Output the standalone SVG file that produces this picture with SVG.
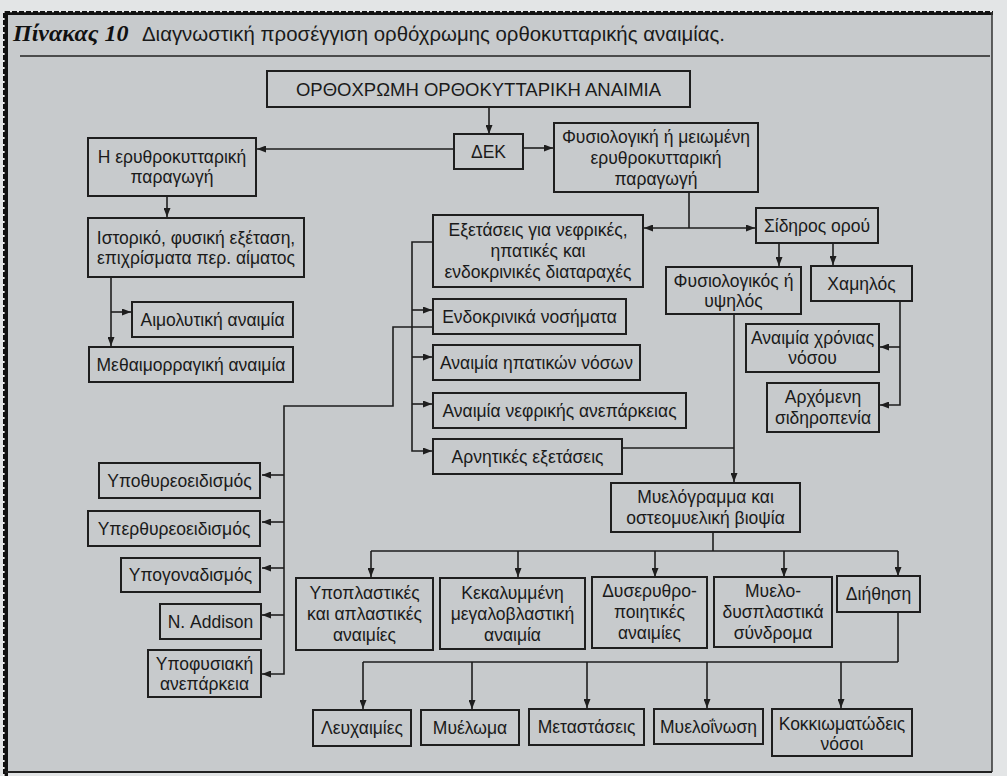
<svg xmlns="http://www.w3.org/2000/svg" width="1007" height="776" viewBox="0 0 1007 776">
<style>
.b{fill:none;stroke:#1e1e1e;stroke-width:2}
.t{font-family:"Liberation Sans",Arial,sans-serif;font-size:17.5px;fill:#1a1a1a;text-anchor:middle;dominant-baseline:central}
.c{fill:none;stroke:#1e1e1e;stroke-width:1.6}
.ar{marker-end:url(#a)}
</style>
<defs>
<marker id="a" markerWidth="9" markerHeight="7" refX="9" refY="3.5" orient="auto" markerUnits="userSpaceOnUse"><path d="M0,0 L9,3.5 L0,7 z" fill="#1e1e1e"/></marker>
</defs>
<rect x="0" y="0" width="1007" height="776" fill="#e3e5e6"/>
<rect x="5" y="12" width="987" height="760" fill="#c7cacc"/>
<!-- frame -->
<line x1="3" y1="13" x2="993" y2="13" stroke="#111" stroke-width="4"/>
<line x1="3" y1="11.5" x2="993" y2="11.5" stroke="#f2f2f2" stroke-width="1.5" stroke-dasharray="2 5"/>
<line x1="5.5" y1="11" x2="5.5" y2="776" stroke="#111" stroke-width="5"/>
<line x1="3.8" y1="11" x2="3.8" y2="776" stroke="#f2f2f2" stroke-width="1.6" stroke-dasharray="2 5"/>
<line x1="992" y1="12" x2="992" y2="772" stroke="#333" stroke-width="1.5"/>
<line x1="5" y1="772" x2="992" y2="772" stroke="#222" stroke-width="2"/>
<!-- title -->
<text x="13" y="41" font-family="Liberation Serif,serif" font-weight="bold" font-style="italic" font-size="24" fill="#111">Πίνακας 10</text>
<text x="142" y="41" font-family="Liberation Sans,Arial,sans-serif" font-size="20.5" fill="#1a1a1a" textLength="583" lengthAdjust="spacingAndGlyphs">Διαγνωστική προσέγγιση ορθόχρωμης ορθοκυτταρικής αναιμίας.</text>
<line x1="20" y1="56" x2="990" y2="56" stroke="#222" stroke-width="1.5"/>

<g id="connectors">
<path class="c ar" d="M489,107 V134"/>
<path class="c ar" d="M523,148 H553"/>
<path class="c ar" d="M454,149 H257"/>
<path class="c ar" d="M167,196 V217"/>
<path class="c ar" d="M111,277 V346"/>
<path class="c ar" d="M111,312 H131"/>
<path class="c" d="M689,192 V228"/>
<path class="c ar" d="M689,228 H644"/>
<path class="c ar" d="M689,228 H755"/>
<path class="c ar" d="M779,243 V266"/>
<path class="c ar" d="M833,243 V265"/>
<path class="c ar" d="M900,301 V405 H880"/>
<path class="c ar" d="M900,347 H880"/>
<path class="c ar" d="M734,314 V482"/>
<path class="c" d="M622,448 H734"/>
<path class="c ar" d="M433,242 H412 V451 H432"/>
<path class="c ar" d="M412,310 H432"/>
<path class="c ar" d="M412,357 H432"/>
<path class="c ar" d="M412,404 H432"/>
<path class="c ar" d="M433,327 H393 V406 H284 V674 H262"/>
<path class="c ar" d="M284,475 H262"/>
<path class="c ar" d="M284,522 H262"/>
<path class="c ar" d="M284,568 H262"/>
<path class="c ar" d="M284,615 H262"/>
<path class="c" d="M713,532 V551 M371,551 H898"/>
<path class="c ar" d="M371,551 V577"/>
<path class="c ar" d="M518,551 V577"/>
<path class="c ar" d="M655,551 V577"/>
<path class="c ar" d="M784,551 V577"/>
<path class="c ar" d="M898,551 V576"/>
<path class="c" d="M898,612 V662 M363,662 H898"/>
<path class="c ar" d="M363,662 V709"/>
<path class="c ar" d="M472,662 V709"/>
<path class="c ar" d="M587,662 V708"/>
<path class="c ar" d="M707,662 V708"/>
<path class="c ar" d="M841,662 V708"/>
</g>

<g id="n-top"><rect class="b" x="267" y="71" width="423" height="36"/><text class="t" x="478.5" y="89.5" style="font-size:18.5px">ΟΡΘΟΧΡΩΜΗ ΟΡΘΟΚΥΤΤΑΡΙΚΗ ΑΝΑΙΜΙΑ</text></g>
<g id="n-dek"><rect class="b" x="454" y="134" width="69" height="35"/><text class="t" x="488.5" y="151.5">ΔΕΚ</text></g>
<g id="n-fysiol"><rect class="b" x="554" y="123" width="204" height="69"/><text class="t" x="656" y="136.5">Φυσιολογική ή μειωμένη</text><text class="t" x="656" y="157.5">ερυθροκυτταρική</text><text class="t" x="656" y="178.5">παραγωγή</text></g>
<g id="n-erythro"><rect class="b" x="88" y="138" width="168" height="58"/><text class="t" x="172" y="157">Η ερυθροκυτταρική</text><text class="t" x="172" y="177">παραγωγή</text></g>
<g id="n-istoriko"><rect class="b" x="88" y="218" width="216" height="59"/><text class="t" x="196" y="238">Ιστορικό, φυσική εξέταση,</text><text class="t" x="196" y="258">επιχρίσματα περ. αίματος</text></g>
<g id="n-aimol"><rect class="b" x="132" y="302" width="161" height="35"/><text class="t" x="212.5" y="319.5">Αιμολυτική αναιμία</text></g>
<g id="n-methaim"><rect class="b" x="89" y="347" width="204" height="35"/><text class="t" x="191" y="364.5">Μεθαιμορραγική αναιμία</text></g>
<g id="n-exetaseis"><rect class="b" x="433" y="215" width="210" height="72"/><text class="t" x="538" y="230">Εξετάσεις για νεφρικές,</text><text class="t" x="538" y="251">ηπατικές και</text><text class="t" x="538" y="272">ενδοκρινικές διαταραχές</text></g>
<g id="n-sidiros"><rect class="b" x="756" y="208" width="122" height="35"/><text class="t" x="817" y="225.5">Σίδηρος ορού</text></g>
<g id="n-fysiologikos"><rect class="b" x="666" y="267" width="135" height="47"/><text class="t" x="733.5" y="281">Φυσιολογικός ή</text><text class="t" x="733.5" y="301">υψηλός</text></g>
<g id="n-xamilos"><rect class="b" x="811" y="266" width="101" height="35"/><text class="t" x="861.5" y="283.5">Χαμηλός</text></g>
<g id="n-xronias"><rect class="b" x="746" y="324" width="133" height="48"/><text class="t" x="812.5" y="338">Αναιμία χρόνιας</text><text class="t" x="812.5" y="358">νόσου</text></g>
<g id="n-arxomeni"><rect class="b" x="767" y="383" width="112" height="49"/><text class="t" x="823" y="397">Αρχόμενη</text><text class="t" x="823" y="418">σιδηροπενία</text></g>
<g id="n-endokr"><rect class="b" x="433" y="299" width="193" height="35"/><text class="t" x="529.5" y="316.5">Ενδοκρινικά νοσήματα</text></g>
<g id="n-ipatikon"><rect class="b" x="433" y="345" width="207" height="35"/><text class="t" x="536.5" y="362.5">Αναιμία ηπατικών νόσων</text></g>
<g id="n-nefrikis"><rect class="b" x="433" y="393" width="253" height="35"/><text class="t" x="559.5" y="410.5">Αναιμία νεφρικής ανεπάρκειας</text></g>
<g id="n-arnitikes"><rect class="b" x="433" y="439" width="189" height="35"/><text class="t" x="527.5" y="456.5">Αρνητικές εξετάσεις</text></g>
<g id="n-ypothyr"><rect class="b" x="99" y="463" width="161" height="35"/><text class="t" x="179.5" y="480.5">Υποθυρεοειδισμός</text></g>
<g id="n-yperthyr"><rect class="b" x="88" y="511" width="172" height="35"/><text class="t" x="174" y="528.5">Υπερθυρεοειδισμός</text></g>
<g id="n-ypogon"><rect class="b" x="121" y="558" width="139" height="34"/><text class="t" x="190.5" y="575">Υπογοναδισμός</text></g>
<g id="n-addison"><rect class="b" x="160" y="604" width="101" height="35"/><text class="t" x="210.5" y="621.5">Ν. Addison</text></g>
<g id="n-ypofysiaki"><rect class="b" x="148" y="650" width="113" height="47"/><text class="t" x="204.5" y="664">Υποφυσιακή</text><text class="t" x="204.5" y="684">ανεπάρκεια</text></g>
<g id="n-myelogramma"><rect class="b" x="611" y="483" width="189" height="49"/><text class="t" x="705.5" y="497">Μυελόγραμμα και</text><text class="t" x="705.5" y="518">οστεομυελική βιοψία</text></g>
<g id="n-ypoplastikes"><rect class="b" x="296" y="578" width="137" height="72"/><text class="t" x="364.5" y="593">Υποπλαστικές</text><text class="t" x="364.5" y="614">και απλαστικές</text><text class="t" x="364.5" y="635">αναιμίες</text></g>
<g id="n-kekalymmeni"><rect class="b" x="440" y="578" width="145" height="71"/><text class="t" x="512.5" y="593">Κεκαλυμμένη</text><text class="t" x="512.5" y="614">μεγαλοβλαστική</text><text class="t" x="512.5" y="635">αναιμία</text></g>
<g id="n-dyserythro"><rect class="b" x="592" y="577" width="115" height="71"/><text class="t" x="649.5" y="591">Δυσερυθρο-</text><text class="t" x="649.5" y="612">ποιητικές</text><text class="t" x="649.5" y="633">αναιμίες</text></g>
<g id="n-myelodys"><rect class="b" x="714" y="577" width="118" height="70"/><text class="t" x="773" y="591">Μυελο-</text><text class="t" x="773" y="612">δυσπλαστικά</text><text class="t" x="773" y="633">σύνδρομα</text></g>
<g id="n-diithisi"><rect class="b" x="837" y="576" width="83" height="36"/><text class="t" x="878.5" y="594">Διήθηση</text></g>
<g id="n-leuxaimies"><rect class="b" x="313" y="710" width="98" height="36"/><text class="t" x="362" y="728">Λευχαιμίες</text></g>
<g id="n-myeloma"><rect class="b" x="421" y="710" width="98" height="35"/><text class="t" x="470" y="727.5">Μυέλωμα</text></g>
<g id="n-metastaseis"><rect class="b" x="529" y="709" width="115" height="36"/><text class="t" x="586.5" y="727">Μεταστάσεις</text></g>
<g id="n-myeloinosi"><rect class="b" x="654" y="709" width="109" height="35"/><text class="t" x="708.5" y="726.5">Μυελοΐνωση</text></g>
<g id="n-kokkiomatodeis"><rect class="b" x="772" y="709" width="140" height="47"/><text class="t" x="842" y="724">Κοκκιωματώδεις</text><text class="t" x="842" y="744">νόσοι</text></g>
</svg>
